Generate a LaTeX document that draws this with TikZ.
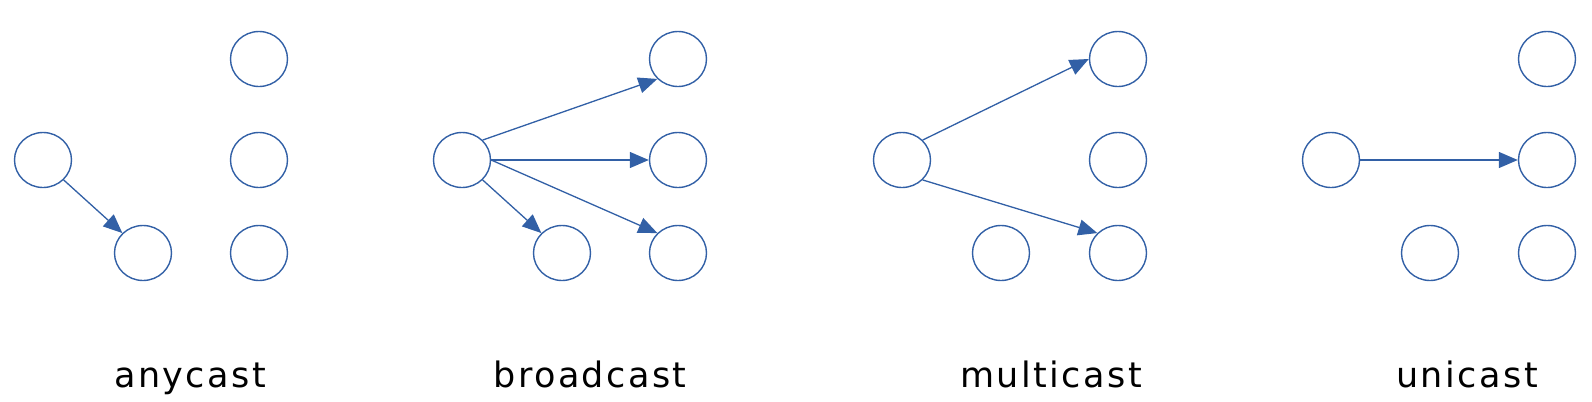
\documentclass[tikz,border=0pt]{standalone}
\usepackage{fontspec}
\usepackage{tikz}
\usetikzlibrary{positioning, shapes.geometric, arrows.meta}
\usepackage{xcolor}
\newfontfamily\castfont[LetterSpace=7]{DejaVu Sans}
\definecolor{netblue}{RGB}{50,96,166}

\begin{document}
\begin{tikzpicture}[
    x=0.5pt, y=-0.5pt,
    host/.style={ellipse, draw=netblue, line width=0.7pt, minimum width=28.5pt, minimum height=27.5pt, inner sep=0pt},
    arrow/.style={-{Triangle[length=9.5pt, width=8pt]}, draw=netblue, fill=netblue, line width=0.65pt},
    caption/.style={anchor=base, font=\castfont\fontsize{17.5pt}{20pt}\selectfont, text=black}
]
    \useasboundingbox (0,0) rectangle (1592,402);

    % anycast
    \node[host] (aSrc) at (43,160) {};
    \node[host] (aBot) at (143,253) {};
    \node[host] (aTop) at (259,59) {};
    \node[host] (aMid) at (259,160) {};
    \node[host] (aLow) at (259,253) {};
    \draw[arrow] (aSrc.south east) -- (aBot.north west);
    \node[caption] (aTxt) at (190,387) {anycast};

    % broadcast
    \node[host] (bSrc) at (462,160) {};
    \node[host] (bBot) at (562,253) {};
    \node[host] (bTop) at (678,59) {};
    \node[host] (bMid) at (678,160) {};
    \node[host] (bLow) at (678,253) {};
    \draw[arrow] (bSrc.north east) -- (bTop.south west);
    \draw[arrow] (bSrc.east) -- (bMid.west);
    \draw[arrow] (bSrc.east) -- (bLow.north west);
    \draw[arrow] (bSrc.south east) -- (bBot.north west);
    \node[caption] (bTxt) at (590,387) {broadcast};

    % multicast
    \node[host] (mSrc) at (902,160) {};
    \node[host] (mBot) at (1001,253) {};
    \node[host] (mTop) at (1118,59) {};
    \node[host] (mMid) at (1118,160) {};
    \node[host] (mLow) at (1118,253) {};
    \draw[arrow] (mSrc.north east) -- (mTop.west);
    \draw[arrow] (mSrc.south east) -- (mLow.north west);
    \node[caption] (mTxt) at (1051,387) {multicast};

    % unicast
    \node[host] (uSrc) at (1331,160) {};
    \node[host] (uBot) at (1430,253) {};
    \node[host] (uTop) at (1547,59) {};
    \node[host] (uMid) at (1547,160) {};
    \node[host] (uLow) at (1547,253) {};
    \draw[arrow] (uSrc.east) -- (uMid.west);
    \node[caption] (uTxt) at (1467,387) {unicast};
\end{tikzpicture}
\end{document}
